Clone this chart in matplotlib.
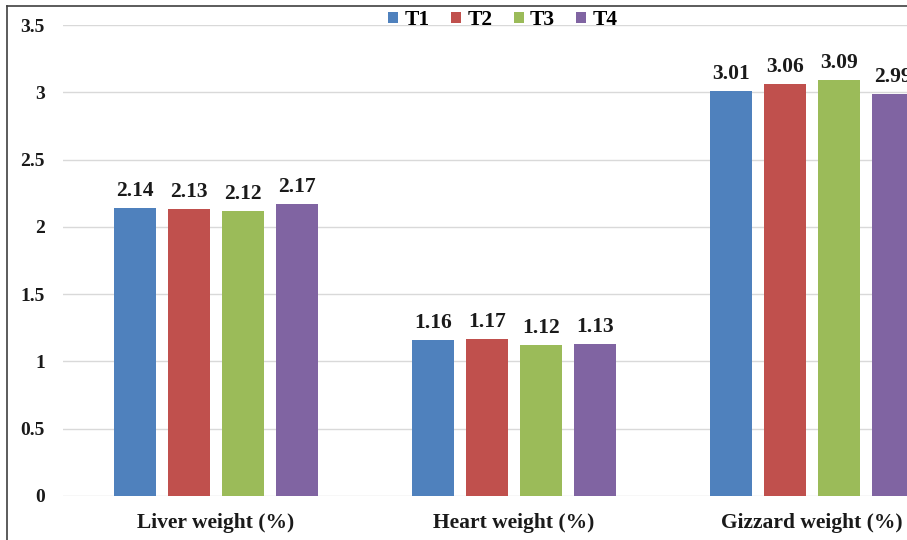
import matplotlib
matplotlib.use("Agg")
import matplotlib.pyplot as plt
import numpy as np
from matplotlib.lines import Line2D
from matplotlib.patches import Patch
from matplotlib.ticker import FuncFormatter

# Organ weights as percent of body weight, per treatment
categories = ["Liver weight (%)", "Heart weight (%)", "Gizzard weight (%)"]
treatments = ["T1", "T2", "T3", "T4"]
t1 = [2.14, 1.16, 3.01]
t2 = [2.13, 1.17, 3.06]
t3 = [2.12, 1.12, 3.09]
t4 = [2.17, 1.13, 2.99]
yticks = [0, 0.5, 1, 1.5, 2, 2.5, 3, 3.5]

colors = ["#4F81BD", "#C0504D", "#9BBB59", "#8064A2"]


def main():
    plt.rcParams["font.family"] = ["Liberation Serif", "DejaVu Serif"]
    plt.rcParams["font.weight"] = "bold"

    W, H = 907, 540
    fig = plt.figure(figsize=(W / 100, H / 100), dpi=100)
    fig.patch.set_facecolor("white")

    # plot area runs off the right edge of the figure
    left_px, right_px = 63, 961
    top_px, bottom_px = 25, 496
    ax = fig.add_axes([left_px / W, 1 - bottom_px / H,
                       (right_px - left_px) / W, (bottom_px - top_px) / H])

    x = np.arange(len(categories))
    step = 54 / 298
    width = 42 / 298
    series = [t1, t2, t3, t4]
    for i, (vals, name, col) in enumerate(zip(series, treatments, colors)):
        pos = x + (i - 1.5) * step
        bars = ax.bar(pos, vals, width, color=col, label=name, zorder=3)
        for b, v in zip(bars, vals):
            ax.annotate(f"{v:.2f}", (b.get_x() + b.get_width() / 2, v),
                        xytext=(0, 5), textcoords="offset points",
                        ha="center", va="bottom", fontsize=15.5,
                        fontweight="bold", color="#1a1a1a")

    ax.set_ylim(0, 3.5)
    ax.set_yticks(yticks)
    ax.yaxis.set_major_formatter(FuncFormatter(lambda v, p: f"{v:g}"))
    ax.set_xlim((left_px - 216) / 298, (right_px - 216) / 298)
    ax.set_xticks(x)
    ax.set_xticklabels(categories)
    ax.tick_params(axis="y", length=0, pad=13, labelsize=14)
    ax.tick_params(axis="x", length=0, pad=12, labelsize=15.5)
    for lab in ax.get_xticklabels() + ax.get_yticklabels():
        lab.set_fontweight("bold")
        lab.set_color("#1a1a1a")

    ax.grid(axis="y", color="#d9d9d9", linewidth=1, zorder=0)
    for s in ax.spines.values():
        s.set_visible(False)

    handles = [Patch(facecolor=c) for c in colors]
    fig.legend(handles, treatments, loc="center", ncol=4,
               bbox_to_anchor=(503 / W, 1 - 20 / H), frameon=False,
               handlelength=0.45, handleheight=0.45, handletextpad=0.3,
               columnspacing=1.0, fontsize=15.5)

    # border of the chart frame, only top and left edges fall inside
    fig.add_artist(Line2D([7 / W, 7 / W], [0, 1 - 6 / H], color="#404040",
                          linewidth=1.2, transform=fig.transFigure))
    fig.add_artist(Line2D([7 / W, 1], [1 - 6 / H, 1 - 6 / H], color="#404040",
                          linewidth=1.2, transform=fig.transFigure))

    fig.savefig("out.png", dpi=100)


if __name__ == "__main__":
    main()
